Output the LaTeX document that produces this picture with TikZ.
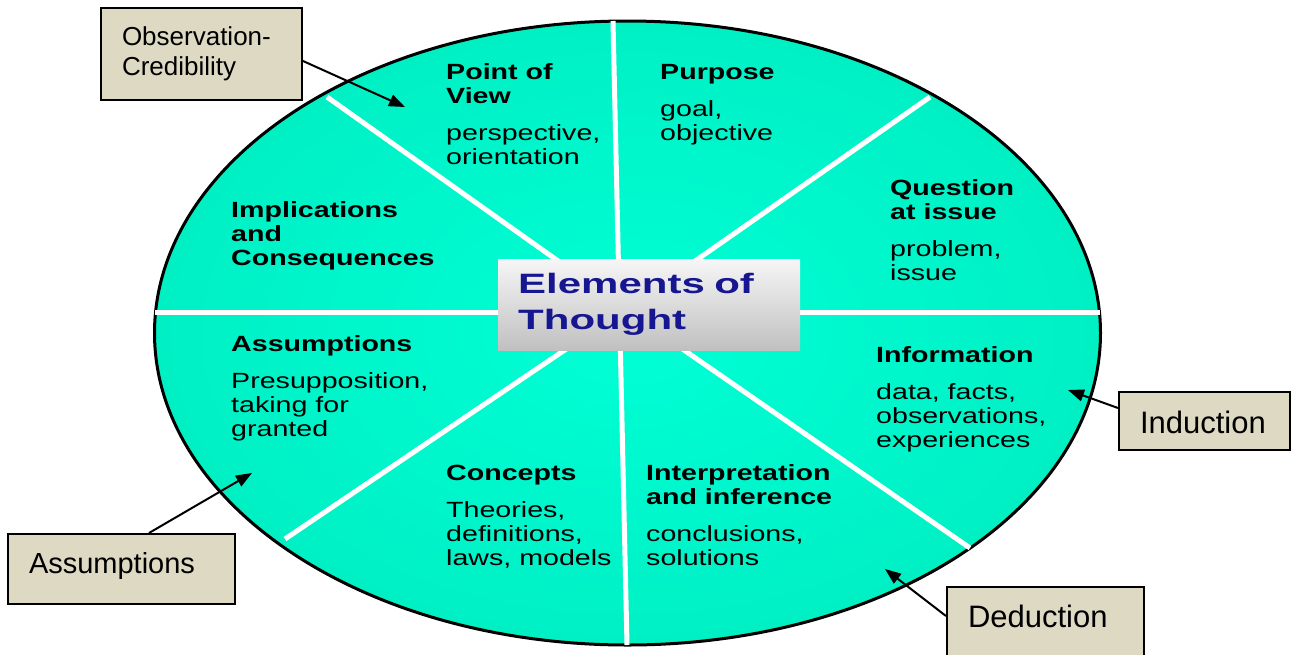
\documentclass[tikz,border=0pt]{standalone}
\usepackage{fontspec}
\setmainfont{Liberation Sans}
\newfontfamily\elemfont[FakeStretch=1.3]{Liberation Sans}
\newfontfamily\hubfont[FakeStretch=1.5]{Liberation Sans}
\usetikzlibrary{arrows.meta}

\definecolor{discin}{RGB}{0,255,214}
\definecolor{discout}{RGB}{0,240,196}
\definecolor{notebg}{RGB}{221,217,195}
\definecolor{hubtext}{RGB}{22,22,145}
\definecolor{hubtop}{RGB}{246,246,246}
\definecolor{hubbottom}{RGB}{192,192,192}

\newcommand{\tb}{\bfseries}
\newcommand{\tr}{\mdseries}
\newcommand{\firstline}{\rule{0pt}{17pt}}

\begin{document}
\begin{tikzpicture}[x=1pt,y=-1pt,
  spoke/.style={white, line width=5pt},
  elem/.style={anchor=north west, inner sep=0pt, align=left,
    font=\elemfont\fontsize{22}{24}\selectfont},
  hubbox/.style={anchor=north west, inner xsep=20pt, inner ysep=0pt,
    minimum height=91pt, text width=262pt, align=left,
    top color=hubtop, bottom color=hubbottom, text=hubtext,
    font=\hubfont\bfseries\fontsize{28}{36}\selectfont},
  note/.style={draw=black, line width=2pt, fill=notebg, anchor=north west,
    inner xsep=21pt, inner ysep=0pt, align=left},
  pointer/.style={draw=black, line width=2pt,
    -{Triangle[length=16pt,width=12pt]}}]

\useasboundingbox (0,0) rectangle (1291,654);
\clip (0,0) rectangle (1291,654);

% the disc
\shade[inner color=discin, outer color=discout]
  (627.5,333) ellipse [x radius=473, y radius=312];
\draw[black, line width=3pt]
  (627.5,333) ellipse [x radius=473, y radius=312];

% white dividing spokes
\coordinate (rimN)  at (613,21);
\coordinate (rimS)  at (627,645);
\coordinate (rimW)  at (155,312.5);
\coordinate (rimE)  at (1100,312.5);
\coordinate (rimNW) at (327,97);
\coordinate (rimNE) at (930,97);
\coordinate (rimSW) at (285,539);
\coordinate (rimSE) at (970,548);
\coordinate (hubNW) at (630,312);
\coordinate (hubNE) at (622,312);
\coordinate (hubSW) at (621,312);
\coordinate (hubSE) at (629,312);

\draw[spoke] (rimN) -- (rimS);
\draw[spoke] (rimW) -- (rimE);
\draw[spoke] (rimNW) -- (hubNW);
\draw[spoke] (rimNE) -- (hubNE);
\draw[spoke] (rimSW) -- (hubSW);
\draw[spoke] (rimSE) -- (hubSE);

% central title
\node[hubbox] (hub) at (498,259) {Elements of\\Thought};

% the eight elements
\node[elem] (pov) at (446,62)
  {\tb\firstline Point of\\\tb View\\[13pt]\tr perspective,\\\tr orientation};
\node[elem] (purpose) at (660,62)
  {\tb\firstline Purpose\\[13pt]\tr goal,\\\tr objective};
\node[elem] (question) at (890,178)
  {\tb\firstline Question\\\tb at issue\\[13pt]\tr problem,\\\tr issue};
\node[elem] (implications) at (231,200)
  {\tb\firstline Implications\\\tb and\\\tb Consequences};
\node[elem] (assumptions) at (231,334)
  {\tb\firstline Assumptions\\[13pt]\tr Presupposition,\\\tr taking for\\\tr granted};
\node[elem] (information) at (876,345)
  {\tb\firstline Information\\[13pt]\tr data, facts,\\\tr observations,\\\tr experiences};
\node[elem] (interpretation) at (646,463)
  {\tb\firstline Interpretation\\\tb and inference\\[13pt]\tr conclusions,\\\tr solutions};
\node[elem] (concepts) at (446,463)
  {\tb\firstline Concepts\\[13pt]\tr Theories,\\\tr definitions,\\\tr laws, models};

% callout boxes
\node[note, text width=159pt, minimum height=92pt,
  font=\fontsize{26}{30}\selectfont] (obs) at (100,7)
  {Observation-\\Credibility};
\node[note, text width=185pt, text height=39pt, text depth=31pt,
  font=\fontsize{29}{34}\selectfont] (asm) at (7,533) {Assumptions};
\node[note, text width=129pt, text height=41pt, text depth=17pt,
  font=\fontsize{31}{36}\selectfont] (ind) at (1118,391) {Induction};
\node[note, text width=155pt, text height=40pt, text depth=40pt,
  font=\fontsize{31}{36}\selectfont] (ded) at (946,586) {Deduction};

% callout pointers
\coordinate (obsTip) at (405,107);
\coordinate (asmTip) at (252,473);
\coordinate (indTip) at (1068,390);
\coordinate (dedTip) at (885,569);

\draw[pointer] ([yshift=-7pt]obs.east) -- (obsTip);
\draw[pointer] ([xshift=27.5pt]asm.north) -- (asmTip);
\draw[pointer] ([yshift=13pt]ind.west) -- (indTip);
\draw[pointer] ([yshift=11pt]ded.west) -- (dedTip);
\end{tikzpicture}
\end{document}
